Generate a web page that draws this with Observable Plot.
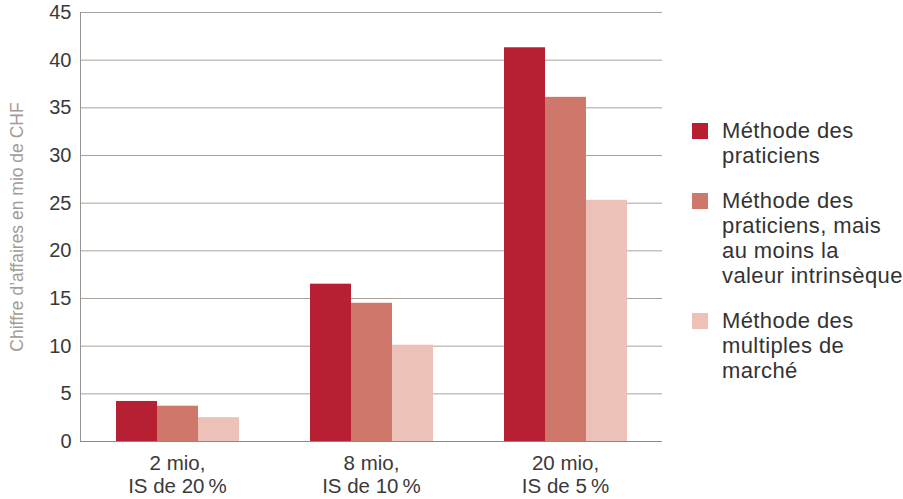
<!DOCTYPE html>
<html>
<head>
<meta charset="utf-8">
<script src="https://cdn.jsdelivr.net/npm/d3@7"></script>
<script src="https://cdn.jsdelivr.net/npm/@observablehq/plot@0.6"></script>
<style>
  body { margin: 0; background: #fff; font-family: "Liberation Sans", Arial, sans-serif; }
  #wrap { position: relative; width: 903px; height: 499px; }
  #legend { position: absolute; left: 692px; top: 118px; color: #333; font-size: 22px; line-height: 25.3px; letter-spacing: 0.4px; }
  .item { position: relative; padding-left: 30px; margin-bottom: 19px; }
  .sw { position: absolute; left: 0; top: 5px; width: 16px; height: 16px; }
</style>
</head>
<body>
<div id="wrap"><div id="chart"></div><div id="legend"></div></div>
<script>
const groups = ["2 mio,\nIS de 20\u2009%", "8 mio,\nIS de 10\u2009%", "20 mio,\nIS de 5\u2009%"];
const methods = ["Méthode des praticiens", "Méthode des praticiens, mais au moins la valeur intrinsèque", "Méthode des multiples de marché"];
const legendLines = [["Méthode des", "praticiens"], ["Méthode des", "praticiens, mais", "au moins la", "valeur intrinsèque"], ["Méthode des", "multiples de", "marché"]];
const praticiens = [4.2, 16.5, 41.3];
const praticiensMin = [3.7, 14.5, 36.1];
const multiples = [2.5, 10.1, 25.3];
const colors = ["#b71f33", "#d0776c", "#ebc1b8"];
const yTicks = [0, 5, 10, 15, 20, 25, 30, 35, 40, 45];
const yLabel = "Chiffre d\u2019affaires en mio de CHF";

const series = [praticiens, praticiensMin, multiples];
const data = [];
groups.forEach((g, i) => series.forEach((s, j) => data.push({group: g, method: methods[j], value: s[i]})));

const chart = Plot.plot({
  width: 680,
  height: 499,
  marginLeft: 79,
  marginRight: 17,
  marginTop: 12,
  marginBottom: 58,
  style: {fontFamily: "Liberation Sans, Arial, sans-serif", background: "transparent"},
  fx: {domain: groups, padding: 0},
  x: {domain: methods, paddingInner: 0, paddingOuter: 0.83, axis: null},
  y: {domain: [0, 45], ticks: yTicks},
  color: {domain: methods, range: colors},
  marks: [
    Plot.gridY(yTicks, {stroke: "#aaa39d", strokeOpacity: 1, strokeWidth: 1}),
    Plot.frame({anchor: "left", facetAnchor: "left", stroke: "#9a938d"}),
    Plot.barY(data, {fx: "group", x: "method", y: "value", fill: "method"}),
    Plot.ruleY([0], {stroke: "#8f8882", strokeWidth: 1}),
    Plot.axisY(yTicks, {tickSize: 0, tickPadding: 9, fontSize: 20, color: "#3a3a3a", label: null}),
    Plot.axisY([], {label: yLabel, labelAnchor: "center", labelArrow: "none", labelOffset: 70, fontSize: 17.5, color: "#a39b94", tickSize: 0}),
    Plot.axisFx({anchor: "bottom", tickSize: 0, tickPadding: 12, fontSize: 20.5, lineHeight: 1.13, color: "#3a3a3a", label: null})
  ]
});
document.getElementById("chart").appendChild(chart);

const legend = document.getElementById("legend");
methods.forEach((m, i) => {
  const item = document.createElement("div");
  item.className = "item";
  const sw = document.createElement("span");
  sw.className = "sw";
  sw.style.background = colors[i];
  item.appendChild(sw);
  item.insertAdjacentHTML("beforeend", legendLines[i].join("<br>"));
  legend.appendChild(item);
});
</script>
</body>
</html>
